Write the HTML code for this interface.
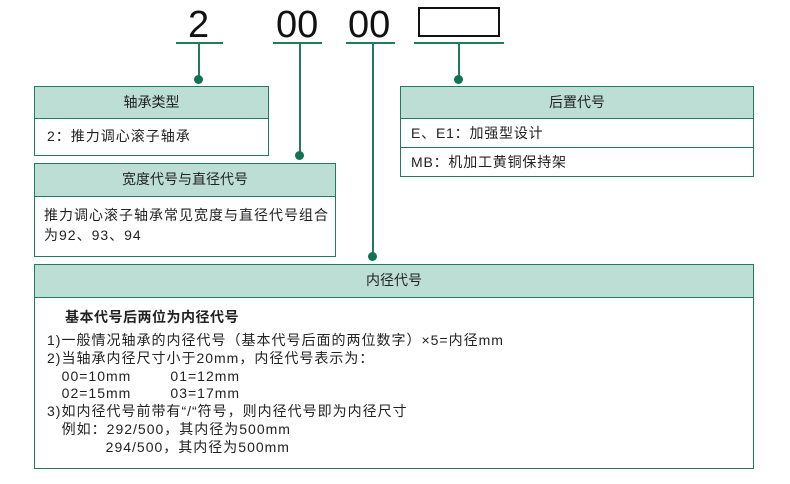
<!DOCTYPE html>
<html><head><meta charset="utf-8"><style>
body{margin:0;width:790px;height:484px;background:#fff;position:relative;overflow:hidden;font-family:"Liberation Sans","Noto Sans CJK SC",sans-serif;color:#222}
.a{position:absolute}
.box{position:absolute;border:1.5px solid #1f7d5e;box-sizing:border-box;background:#fff}
.hd{background:#bcded4;border-bottom:1.5px solid #1f7d5e;text-align:center;font-size:14px;box-sizing:border-box}
.row{font-size:14px;padding-left:12px;box-sizing:border-box;letter-spacing:1px}
.ln{position:absolute;background:#1f7d5e}
.dot{position:absolute;width:9px;height:9px;border-radius:50%;background:#0f7452}
.big{position:absolute;font-size:38px;line-height:40px;color:#111}
</style></head><body>
<div class="big" style="left:188px;top:5px">2</div>
<div class="big" style="left:276px;top:5px">00</div>
<div class="big" style="left:348px;top:5px">00</div>
<div class="a" style="left:418px;top:7px;width:78px;height:26px;border:2px solid #111"></div>
<div class="ln" style="left:176px;top:42px;width:47px;height:1.5px"></div>
<div class="ln" style="left:273px;top:42px;width:49px;height:1.5px"></div>
<div class="ln" style="left:346px;top:42px;width:49px;height:1.5px"></div>
<div class="ln" style="left:414px;top:42px;width:90px;height:1.5px"></div>
<div class="ln" style="left:198px;top:43px;width:1.5px;height:36px"></div>
<div class="dot" style="left:194px;top:75px"></div>
<div class="ln" style="left:299px;top:43px;width:1.5px;height:112px"></div>
<div class="dot" style="left:295px;top:151px"></div>
<div class="ln" style="left:372px;top:43px;width:1.5px;height:213px"></div>
<div class="dot" style="left:368px;top:252px"></div>
<div class="ln" style="left:458px;top:43px;width:1.5px;height:36px"></div>
<div class="dot" style="left:454px;top:75px"></div>

<div class="box" style="left:34px;top:86px;width:235px;height:70px">
<div class="hd" style="height:32px;line-height:30px">轴承类型</div>
<div class="row" style="line-height:34px;padding-left:12px">2：推力调心滚子轴承</div></div>

<div class="box" style="left:34px;top:163px;width:302px;height:94px">
<div class="hd" style="height:33px;line-height:31px">宽度代号与直径代号</div>
<div class="row" style="padding:8px 0 0 9px;line-height:20px">推力调心滚子轴承常见宽度与直径代号组合<br>为92、93、94</div></div>

<div class="box" style="left:400px;top:86px;width:354px;height:91px">
<div class="hd" style="height:32px;line-height:30px">后置代号</div>
<div class="row" style="height:29px;line-height:28px;border-bottom:1.5px solid #1f7d5e;padding-left:10px;letter-spacing:.8px">E、E1：加强型设计</div>
<div class="row" style="line-height:28px;padding-left:10px;letter-spacing:.8px">MB：机加工黄铜保持架</div></div>

<div class="box" style="left:34px;top:264px;width:720px;height:205px">
<div class="hd" style="height:33px;line-height:31px">内径代号</div>
<div style="position:absolute;left:30px;top:42px;font-size:14px;font-weight:bold;letter-spacing:.5px">基本代号后两位为内径代号</div>
<div style="position:absolute;left:12px;top:67px;font-size:14px;line-height:17.8px;white-space:pre;letter-spacing:1px">1)一般情况轴承的内径代号（基本代号后面的两位数字）×5=内径mm
2)当轴承内径尺寸小于20mm，内径代号表示为：
   00=10mm        01=12mm
   02=15mm        03=17mm
3)如内径代号前带有“/“符号，则内径代号即为内径尺寸
   例如：292/500，其内径为500mm
            294/500，其内径为500mm</div>
</div>
</body></html>
